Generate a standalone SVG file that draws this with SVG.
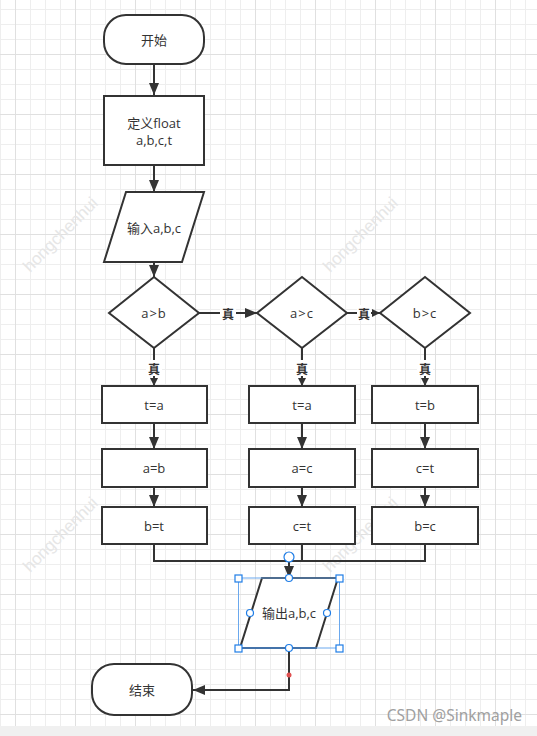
<svg xmlns="http://www.w3.org/2000/svg" width="537" height="736" viewBox="0 0 537 736">
<defs>
<pattern id="grid" patternUnits="userSpaceOnUse" x="15" y="54" width="60" height="60">
<path d="M15.5 0V60M30.5 0V60M45.5 0V60M0 15.5H60M0 30.5H60M0 45.5H60" stroke="#eeeeee" stroke-width="1" fill="none"/>
<path d="M0.5 0V60M0 0.5H60" stroke="#e0e0e0" stroke-width="1" fill="none"/>
</pattern>
<marker id="arr" viewBox="0 0 12 10" refX="12" refY="5" markerWidth="12" markerHeight="10" markerUnits="userSpaceOnUse" orient="auto">
<path d="M0 0L12 5L0 10Z" fill="#333"/>
</marker>
<marker id="arrs" viewBox="0 0 8 8" refX="8" refY="4" markerWidth="8" markerHeight="8" markerUnits="userSpaceOnUse" orient="auto">
<path d="M0 0L8 4L0 8Z" fill="#333"/>
</marker>
</defs>
<style>
.s{fill:#fff;stroke:#333;stroke-width:2}
.t{font-family:"Open Sans","Noto Sans CJK SC",sans-serif;font-size:13px;fill:#333;text-anchor:middle;dominant-baseline:central}
.e{fill:none;stroke:#333;stroke-width:2}
.lb{font-family:"Noto Sans CJK SC",sans-serif;font-size:12px;fill:#333;text-anchor:middle;dominant-baseline:central;font-weight:bold}
.wm{font-family:"Liberation Sans",sans-serif;font-size:17px;fill:#e6e6e6}
.h{fill:#fff;stroke:#1f7de6;stroke-width:1.2}
</style>
<rect x="0" y="0" width="537" height="736" fill="#f0f0f0"/>
<rect x="0" y="0" width="537" height="726" fill="#fff"/>
<rect x="0" y="0" width="537" height="726" fill="url(#grid)"/>
<g id="watermarks">
<text class="wm" transform="translate(30,273) rotate(-45)">hongchenhui</text>
<text class="wm" transform="translate(330,273) rotate(-45)">hongchenhui</text>
<text class="wm" transform="translate(30,573) rotate(-45)">hongchenhui</text>
<text class="wm" transform="translate(330,573) rotate(-45)">hongchenhui</text>
</g>
<g id="connectors">
<path class="e" d="M154 64V95" marker-end="url(#arr)"/>
<path class="e" d="M154 166V192" marker-end="url(#arr)"/>
<path class="e" d="M154 262V277" marker-end="url(#arr)"/>
<path class="e" d="M199 313H257" marker-end="url(#arr)"/>
<path class="e" d="M347 313H380" marker-end="url(#arrs)"/>
<path class="e" d="M154 348V386" marker-end="url(#arrs)"/>
<path class="e" d="M302 348V386" marker-end="url(#arrs)"/>
<path class="e" d="M425 348V386" marker-end="url(#arrs)"/>
<rect x="220" y="305" width="16" height="16" fill="#fff"/>
<text class="lb" x="228" y="313">真</text>
<rect x="357" y="305" width="14" height="16" fill="#fff"/>
<text class="lb" x="364" y="313">真</text>
<rect x="146" y="360" width="16" height="16" fill="#fff"/>
<text class="lb" x="154" y="368">真</text>
<rect x="294" y="360" width="16" height="16" fill="#fff"/>
<text class="lb" x="302" y="368">真</text>
<rect x="417" y="360" width="16" height="16" fill="#fff"/>
<text class="lb" x="425" y="368">真</text>
<path class="e" d="M154 423V449" marker-end="url(#arr)"/>
<path class="e" d="M154 487V507" marker-end="url(#arr)"/>
<path class="e" d="M302 423V449" marker-end="url(#arr)"/>
<path class="e" d="M302 487V507" marker-end="url(#arr)"/>
<path class="e" d="M425 423V449" marker-end="url(#arr)"/>
<path class="e" d="M425 487V507" marker-end="url(#arr)"/>
<path class="e" d="M154 544V561H425V544M302 544V561"/>
<path class="e" d="M289 561V578" marker-end="url(#arr)"/>
<path class="e" d="M289 648V690H193" marker-end="url(#arr)"/>
<circle cx="289" cy="675" r="2.5" fill="#e05050"/>
</g>
<g id="start">
<rect class="s" x="104" y="15" width="100" height="49" rx="22" ry="22"/>
<text class="t" x="154" y="40">开始</text>
</g>
<g id="define">
<rect class="s" x="104" y="96" width="100" height="69"/>
<text class="t" x="154" y="123">定义float</text>
<text class="t" x="154" y="140">a,b,c,t</text>
</g>
<g id="input">
<polygon class="s" points="126,192 204,192 182,262 104,262"/>
<text class="t" x="154" y="228">输入a,b,c</text>
</g>
<g id="d1">
<polygon class="s" points="154,277 199,313 154,348 109,313"/>
<text class="t" x="154" y="313" letter-spacing="1">a&gt;b</text>
</g>
<g id="d2">
<polygon class="s" points="302,277 347,313 302,348 257,313"/>
<text class="t" x="302" y="313" letter-spacing="1">a&gt;c</text>
</g>
<g id="d3">
<polygon class="s" points="425,277 470,313 425,348 380,313"/>
<text class="t" x="425" y="313" letter-spacing="1">b&gt;c</text>
</g>
<g id="b11"><rect class="s" x="102" y="386" width="105" height="37"/><text class="t" x="154" y="405">t=a</text></g>
<g id="b12"><rect class="s" x="102" y="449" width="105" height="38"/><text class="t" x="154" y="468">a=b</text></g>
<g id="b13"><rect class="s" x="102" y="507" width="105" height="37"/><text class="t" x="154" y="526">b=t</text></g>
<g id="b21"><rect class="s" x="249" y="386" width="106" height="37"/><text class="t" x="302" y="405">t=a</text></g>
<g id="b22"><rect class="s" x="249" y="449" width="106" height="38"/><text class="t" x="302" y="468">a=c</text></g>
<g id="b23"><rect class="s" x="249" y="507" width="106" height="37"/><text class="t" x="302" y="526">c=t</text></g>
<g id="b31"><rect class="s" x="372" y="386" width="106" height="37"/><text class="t" x="425" y="405">t=b</text></g>
<g id="b32"><rect class="s" x="372" y="449" width="106" height="38"/><text class="t" x="425" y="468">c=t</text></g>
<g id="b33"><rect class="s" x="372" y="507" width="106" height="37"/><text class="t" x="425" y="526">b=c</text></g>
<g id="output">
<polygon class="s" points="262,578 338,578 316,648 240,648"/>
<path d="M240 648H316" stroke="#1e3f66" stroke-width="2"/>
<text class="t" x="289" y="613">输出a,b,c</text>
<rect x="238.5" y="578" width="101" height="70" fill="none" stroke="#6aa8ee" stroke-width="1"/>
<circle class="h" cx="289" cy="557" r="5"/>
<rect class="h" x="235" y="575" width="7" height="7"/>
<rect class="h" x="336" y="575" width="7" height="7"/>
<rect class="h" x="235" y="645" width="7" height="7"/>
<rect class="h" x="336" y="645" width="7" height="7"/>
<circle class="h" cx="289" cy="578" r="3.5"/>
<circle class="h" cx="250" cy="613" r="3.5"/>
<circle class="h" cx="327" cy="613" r="3.5"/>
<circle class="h" cx="289" cy="648" r="3.5"/>
</g>
<g id="end">
<rect class="s" x="92" y="664" width="100" height="51" rx="22" ry="22"/>
<text class="t" x="142" y="690">结束</text>
</g>
<text x="522" y="721" font-family="'Noto Sans','Liberation Sans',sans-serif" font-size="15.5" fill="#a0a0a0" text-anchor="end">CSDN @Sinkmaple</text>
</svg>
